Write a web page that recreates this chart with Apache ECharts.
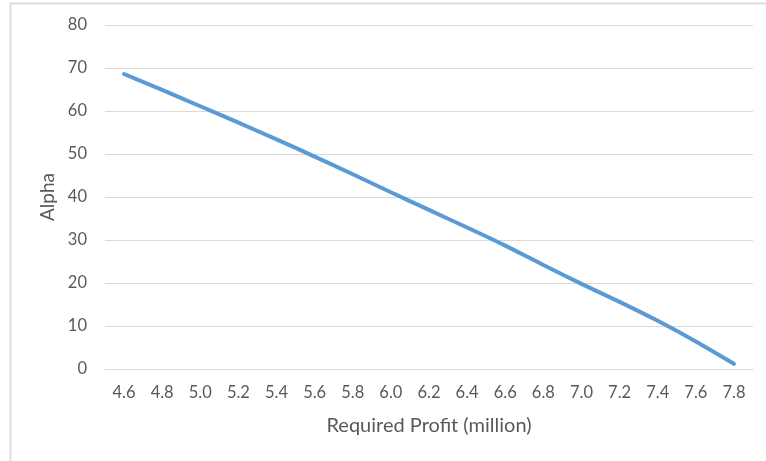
<!DOCTYPE html>
<html>
<head>
<meta charset="utf-8">
<script src="https://cdn.jsdelivr.net/npm/echarts@6/dist/echarts.min.js"></script>
<style>
html,body{margin:0;padding:0;background:#fff;}
#c{width:766px;height:461px;}
</style>
</head>
<body>
<div id="c"></div>
<script>
var categories = ['4.6','4.8','5.0','5.2','5.4','5.6','5.8','6.0','6.2','6.4','6.6','6.8','7.0','7.2','7.4','7.6','7.8'];
var alphaValues = [68.6,64.9,61.1,57.3,53.4,49.4,45.3,41.1,37.0,32.9,28.7,24.2,19.8,15.6,11.2,6.4,1.2];
var yTicks = [0,10,20,30,40,50,60,70,80];

var FONT = 'Lato, "Open Sans", sans-serif';
var chart = echarts.init(document.getElementById('c'), null, {renderer:'canvas'});
chart.setOption({
  animation: false,
  backgroundColor: '#fff',
  graphic: [{
    type: 'rect', left: 8, top: 1, shape: {width: 770, height: 470},
    style: {fill: 'none', stroke: '#dcdcdc', lineWidth: 2}, silent: true
  }],
  grid: {left: 105, right: 13, top: 25, bottom: 92},
  xAxis: {
    type: 'category',
    data: categories,
    boundaryGap: true,
    name: 'Required Profit (million)',
    nameLocation: 'middle',
    nameGap: 47,
    nameTextStyle: {color: '#595959', fontSize: 20, fontFamily: FONT},
    axisLine: {show: true, lineStyle: {color: '#d9d9d9', width: 1}},
    axisTick: {show: false},
    axisLabel: {color: '#595959', fontSize: 16.5, fontFamily: FONT, margin: 15, interval: 0}
  },
  yAxis: {
    type: 'value',
    min: yTicks[0], max: yTicks[yTicks.length-1], interval: 10,
    name: 'Alpha',
    nameLocation: 'middle',
    nameGap: 48,
    nameRotate: 90,
    nameTextStyle: {color: '#595959', fontSize: 19, fontFamily: FONT},
    axisLine: {show: false},
    axisTick: {show: false},
    axisLabel: {color: '#595959', fontSize: 16.5, fontFamily: FONT, margin: 18},
    splitLine: {lineStyle: {color: '#d9d9d9', width: 1}}
  },
  series: [{
    type: 'line',
    data: alphaValues,
    smooth: 0.25,
    showSymbol: false,
    symbol: 'none',
    lineStyle: {color: '#5b9bd5', width: 4, cap: 'round'},
    itemStyle: {color: '#5b9bd5'}
  }]
});
</script>
</body>
</html>
